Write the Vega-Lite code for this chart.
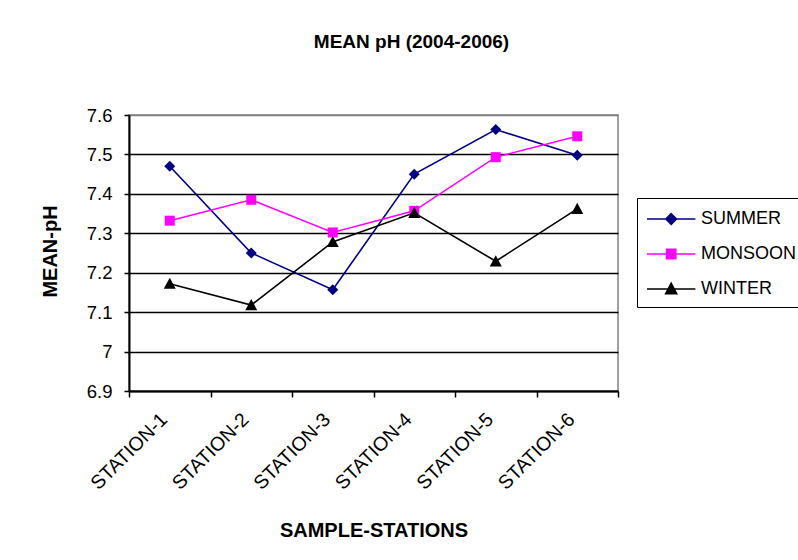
{
  "$schema": "https://vega.github.io/schema/vega-lite/v6.json",
  "width": 489,
  "height": 276,
  "autosize": {"type": "none"},
  "padding": {"left": 129, "top": 115, "right": 180, "bottom": 169},
  "background": "white",
  "config": {
    "font": "Liberation Sans",
    "view": {"stroke": "#808080", "strokeWidth": 1.5},
    "axis": {"labelColor": "black", "titleColor": "black", "labelFont": "Liberation Sans", "titleFont": "Liberation Sans"}
  },
  "title": {
    "text": "MEAN pH (2004-2006)",
    "font": "Liberation Sans",
    "fontSize": 19,
    "fontWeight": "bold",
    "color": "black",
    "anchor": "middle",
    "frame": "group",
    "dx": 38,
    "offset": 54
  },
  "data": {
    "values": [
      {"station": "STATION-1", "season": "SUMMER", "ph": 7.47},
      {"station": "STATION-2", "season": "SUMMER", "ph": 7.25},
      {"station": "STATION-3", "season": "SUMMER", "ph": 7.157},
      {"station": "STATION-4", "season": "SUMMER", "ph": 7.45},
      {"station": "STATION-5", "season": "SUMMER", "ph": 7.563},
      {"station": "STATION-6", "season": "SUMMER", "ph": 7.498},
      {"station": "STATION-1", "season": "MONSOON", "ph": 7.332},
      {"station": "STATION-2", "season": "MONSOON", "ph": 7.385},
      {"station": "STATION-3", "season": "MONSOON", "ph": 7.302},
      {"station": "STATION-4", "season": "MONSOON", "ph": 7.357},
      {"station": "STATION-5", "season": "MONSOON", "ph": 7.493},
      {"station": "STATION-6", "season": "MONSOON", "ph": 7.546},
      {"station": "STATION-1", "season": "WINTER", "ph": 7.172},
      {"station": "STATION-2", "season": "WINTER", "ph": 7.118},
      {"station": "STATION-3", "season": "WINTER", "ph": 7.278},
      {"station": "STATION-4", "season": "WINTER", "ph": 7.352},
      {"station": "STATION-5", "season": "WINTER", "ph": 7.229},
      {"station": "STATION-6", "season": "WINTER", "ph": 7.362}
    ]
  },
  "encoding": {
    "x": {
      "field": "station",
      "type": "nominal",
      "scale": {"paddingInner": 0, "paddingOuter": 0},
      "axis": {
        "title": "SAMPLE-STATIONS",
        "titleFontSize": 20,
        "titleFontWeight": "bold",
        "titleY": 139,
        "titleBaseline": "middle",
        "labelAngle": -45,
        "labelAlign": "right",
        "labelBaseline": "middle",
        "labelFontSize": 19.5,
        "labelPadding": 19,
        "labelOffset": -6,
        "tickBand": "extent",
        "tickSize": 6,
        "tickColor": "black",
        "tickWidth": 1.5,
        "domainColor": "black",
        "domainWidth": 2,
        "grid": false
      }
    },
    "y": {
      "field": "ph",
      "type": "quantitative",
      "scale": {"domain": [6.9, 7.6], "zero": false, "nice": false},
      "axis": {
        "title": "MEAN-pH",
        "titleFontSize": 20,
        "titleFontWeight": "bold",
        "titleX": -79,
        "titleY": 136,
        "titleBaseline": "middle",
        "values": [6.9, 7.0, 7.1, 7.2, 7.3, 7.4, 7.5, 7.6],
        "format": ".1~f",
        "labelFontSize": 18.5,
        "labelPadding": 12,
        "tickSize": 5,
        "tickColor": "black",
        "tickWidth": 1.5,
        "domainColor": "black",
        "domainWidth": 2,
        "grid": true,
        "gridColor": {"condition": {"test": "datum.value >= 7.6", "value": "#808080"}, "value": "black"},
        "gridWidth": 1.3
      }
    },
    "color": {
      "field": "season",
      "type": "nominal",
      "scale": {"domain": ["SUMMER", "MONSOON", "WINTER"], "range": ["#000080", "#FF00FF", "#000000"]},
      "legend": null
    }
  },
  "layer": [
    {
      "mark": {"type": "line", "strokeWidth": 1.6},
      "encoding": {
        "color": {
          "field": "season",
          "type": "nominal",
          "scale": {"domain": ["SUMMER", "MONSOON", "WINTER"], "range": ["#000080", "#FF00FF", "#000000"]},
          "legend": {
            "title": null,
            "orient": "none",
            "legendX": 508,
            "legendY": 83,
            "padding": 9,
            "strokeColor": "black",
            "fillColor": "white",
            "symbolSize": 484,
            "symbolStrokeWidth": 1.6,
            "labelFontSize": 18,
            "labelColor": "black",
            "labelOffset": 31,
            "rowPadding": 14,
            "encode": {
              "symbols": {
                "update": {
                  "shape": {"signal": "datum.value === 'SUMMER' ? 'M-1,0H3.4M1.2,-0.48L1.68,0L1.2,0.48L0.72,0Z' : datum.value === 'MONSOON' ? 'M-1,0H3.4M0.78,-0.42H1.62V0.42H0.78Z' : 'M-1,0H3.4M1.2,-0.52L1.7,0.42L0.7,0.42Z'"},
                  "fill": {"signal": "scale('color', datum.value)"},
                  "stroke": {"signal": "scale('color', datum.value)"}
                }
              }
            }
          }
        }
      }
    },
    {
      "transform": [{"filter": "datum.season === 'SUMMER'"}],
      "mark": {"type": "point", "filled": true, "opacity": 1, "size": 121, "shape": "M0,-1L1,0L0,1L-1,0Z"}
    },
    {
      "transform": [{"filter": "datum.season === 'MONSOON'"}],
      "mark": {"type": "point", "filled": true, "opacity": 1, "size": 100, "shape": "M-1,-1H1V1H-1Z"}
    },
    {
      "transform": [{"filter": "datum.season === 'WINTER'"}],
      "mark": {"type": "point", "filled": true, "opacity": 1, "size": 144, "shape": "M0,-1L1,0.85L-1,0.85Z"}
    }
  ]
}
